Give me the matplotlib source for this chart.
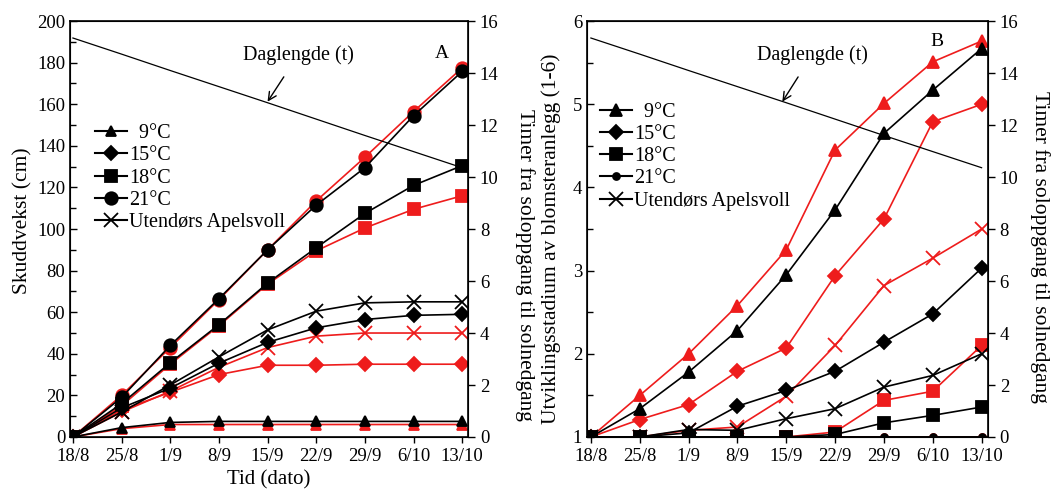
import matplotlib
matplotlib.use("Agg")
import matplotlib.pyplot as plt
from matplotlib.ticker import MultipleLocator
from matplotlib.lines import Line2D

plt.rcParams["font.family"] = ["Liberation Serif", "DejaVu Serif"]
plt.rcParams["font.size"] = 13.5

# ── data ──────────────────────────────────────────────────────────────
dates = ["18/8", "25/8", "1/9", "8/9", "15/9", "22/9", "29/9", "6/10", "13/10"]
daylength = [15.35, 14.73, 14.1, 13.48, 12.86, 12.23, 11.6, 10.98, 10.36]

# A: skuddvekst (cm), svart og rød serie per temperatur
a_9_black  = [0, 4.5, 7, 7.5, 7.5, 7.5, 7.5, 7.5, 7.5]
a_9_red    = [0, 4, 6, 6, 6, 6, 6, 6, 6]
a_15_black = [0, 14, 23.5, 35.5, 45.5, 52.5, 56.5, 58.5, 59]
a_15_red   = [0, 13, 21.5, 30, 34.5, 34.5, 35, 35, 35]
a_18_black = [0, 16, 35.7, 54, 74, 91, 107.5, 121, 130.5]
a_18_red   = [0, 15, 35, 53.5, 73.5, 89.5, 100.5, 109.5, 116]
a_21_black = [0, 19, 44, 66.5, 90, 111.5, 129.5, 154.5, 175.8]
a_21_red   = [0, 20, 43, 66, 90, 113.5, 134.5, 156.5, 177.5]
a_ute_black = [0, 12, 25, 38.5, 51.5, 60.5, 64.5, 65, 65]
a_ute_red   = [0, 12, 22, 33.5, 43, 48.5, 50, 50, 50]

# B: utviklingsstadium (1-6)
b_9_black  = [1, 1.34, 1.78, 2.28, 2.95, 3.73, 4.65, 5.17, 5.67]
b_9_red    = [1, 1.5, 2.0, 2.58, 3.25, 4.45, 5.01, 5.51, 5.76]
b_15_black = [1, 1.0, 1.05, 1.37, 1.56, 1.79, 2.14, 2.48, 3.03]
b_15_red   = [1, 1.21, 1.39, 1.79, 2.07, 2.94, 3.62, 4.79, 5.0]
b_18_black = [1, 1, 1, 1, 1, 1.03, 1.17, 1.26, 1.36]
b_18_red   = [1, 1, 1, 1, 1, 1.06, 1.44, 1.55, 2.1]
b_21_black = [1, 1, 1, 1, 1, 1, 1, 1, 1]
b_21_red   = [1, 1, 1, 1, 1, 1, 1, 1, 1]
b_ute_black = [1, 1.0, 1.09, 1.08, 1.22, 1.34, 1.6, 1.74, 2.0]
b_ute_red   = [1, 1.0, 1.08, 1.12, 1.49, 2.1, 2.82, 3.15, 3.5]

labels = ["  9°C", "15°C", "18°C", "21°C", "Utendørs Apelsvoll"]
RED = "#ee1c1c"
x = list(range(len(dates)))

fig = plt.figure(figsize=(10.51, 4.91), dpi=100)
axA = fig.add_axes([0.0666, 0.110, 0.3787, 0.847])
axB = fig.add_axes([0.5585, 0.110, 0.3815, 0.847])


def draw(ax, series, styles):
    for (black, red), (mk, ms) in zip(series, styles):
        ax.plot(x, red, color=RED, lw=1.2, marker=mk, ms=ms, mew=1.3,
                mfc=RED, mec=RED, zorder=2)
        ax.plot(x, black, color="black", lw=1.2, marker=mk, ms=ms, mew=1.3,
                mfc="black", mec="black", zorder=3)


styleA = [("^", 7), ("D", 7), ("s", 9), ("o", 9), ("x", 10)]
styleB = [("^", 9), ("D", 7), ("s", 9), ("o", 5), ("x", 10)]

draw(axA, [(a_9_black, a_9_red), (a_15_black, a_15_red), (a_18_black, a_18_red),
           (a_21_black, a_21_red), (a_ute_black, a_ute_red)], styleA)
draw(axB, [(b_9_black, b_9_red), (b_15_black, b_15_red), (b_18_black, b_18_red),
           (b_21_black, b_21_red), (b_ute_black, b_ute_red)], styleB)

LABEL_FS = 15.5

axA.set_ylim(0, 200)
axA.yaxis.set_major_locator(MultipleLocator(20))
axA.yaxis.set_minor_locator(MultipleLocator(10))
axA.set_ylabel("Skuddvekst (cm)", fontsize=LABEL_FS)
axA.yaxis.set_label_coords(-0.095, 0.52)
axA.set_xlabel("Tid (dato)", fontsize=15, labelpad=4)

axB.set_ylim(1, 6)
axB.yaxis.set_major_locator(MultipleLocator(1))
axB.yaxis.set_minor_locator(MultipleLocator(0.5))
axB.set_ylabel("Utviklingsstadium av blomsteranlegg (1-6)", fontsize=LABEL_FS)
axB.yaxis.set_label_coords(-0.066, 0.476)

twins = []
for ax, xl, tag, tagpos, txtpos, tip, lgpos in [
        (axA, (-0.06, 8.12), "A", (0.935, 0.923), (4.63, 14.7), (4.0, 12.9), (0.063, 0.752)),
        (axB, (-0.08, 8.13), "B", (0.873, 0.95), (4.53, 14.7), (3.92, 12.9), (0.032, 0.803))]:
    ax.set_xlim(*xl)
    ax.set_xticks(x)
    ax.set_xticklabels(dates)
    ax.tick_params(axis="x", direction="out", length=4, width=1, pad=4)
    ax.tick_params(axis="y", which="both", direction="in", length=5, width=1)
    ax.tick_params(axis="y", which="minor", length=4)
    for sp in ax.spines.values():
        sp.set_linewidth(1.2)
    ax.text(*tagpos, tag, transform=ax.transAxes, ha="center", va="center",
            fontsize=14)

    tw = ax.twinx()
    twins.append(tw)
    tw.plot(x, daylength, color="black", lw=0.9, zorder=1)
    tw.set_ylim(0, 16)
    tw.yaxis.set_major_locator(MultipleLocator(2))
    tw.tick_params(axis="y", direction="out", length=5, width=1)
    tw.set_ylabel("Timer fra soloppgang til solnedgang", rotation=270,
                  fontsize=LABEL_FS)
    tw.annotate("Daglengde (t)", xy=tip, xytext=txtpos, ha="center",
                va="center", fontsize=14.5,
                arrowprops=dict(arrowstyle="->", color="black", lw=1,
                                shrinkA=8, shrinkB=0))

    handles = [Line2D([], [], color="black", lw=1.5, marker=m, ms=s, mew=1.3)
               for m, s in (styleA if ax is axA else styleB)]
    ax.legend(handles, labels, loc="upper left", bbox_to_anchor=lgpos,
              frameon=False, borderaxespad=0, borderpad=0, handlelength=1.6,
              handletextpad=0.1, labelspacing=0.15, fontsize=14.5)

twins[0].yaxis.set_label_coords(1.168, 0.413)
twins[1].yaxis.set_label_coords(1.155, 0.458)
fig.savefig("out.png", dpi=100)
